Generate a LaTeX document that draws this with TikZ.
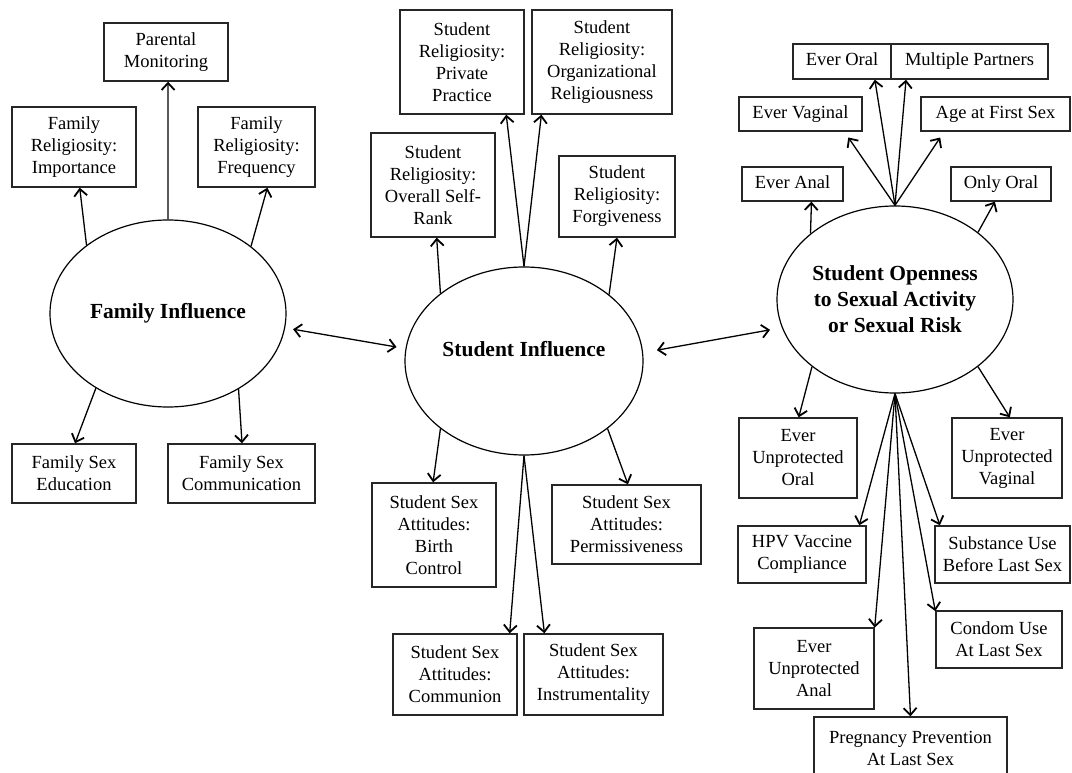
\documentclass[tikz,border=0pt]{standalone}
\usepackage{fontspec}
\setmainfont{Liberation Serif}
\usetikzlibrary{shapes.geometric,arrows.meta}
\newcommand\mybox[7][]{\node[box, #1, minimum width=#5, minimum height=#6] (#2) at (#3,#4) {#7};}
\begin{document}
\begin{tikzpicture}[x=1pt,y=-1pt,
  box/.style={draw=black!85, line width=1.4pt, rectangle, inner sep=0pt, align=center,
    font=\fontsize{18.5}{22}\selectfont},
  oneline/.style={text height=13pt, text depth=4pt},
  latent/.style={draw=black, ellipse, line width=1.2pt, inner sep=0pt, align=center,
    font=\fontsize{21.5}{26}\selectfont\bfseries},
  arr/.style={line width=1.3pt, -{Straight Barb[length=7pt,width=13pt,line width=1.8pt]}},
  darr/.style={line width=1.3pt, {Straight Barb[length=7pt,width=13pt,line width=1.8pt]}-{Straight Barb[length=7pt,width=13pt,line width=1.8pt]}}]
\useasboundingbox (0,0) rectangle (1072,773);
\fill[white] (0,0) rectangle (1072,773);

% latent variables
\node[latent, minimum width=236, minimum height=187] (fam) at (168,313.5) {Family Influence};
\node[latent, minimum width=238, minimum height=188, text depth=24pt] (stu) at (524,361) {Student Influence};
\node[latent, minimum width=236, minimum height=187] (open) at (895,299.5) {Student Openness\\to Sexual Activity\\or Sexual Risk};

% family indicators
\mybox{parmon}{166}{52}{124}{58}{Parental\\Monitoring}
\mybox{famimp}{74}{147}{124}{80}{Family\\Religiosity:\\Importance}
\mybox{famfreq}{256.5}{147}{117}{80}{Family\\Religiosity:\\Frequency}
\mybox{famedu}{74}{473.5}{124}{59}{Family Sex\\Education}
\mybox{famcomm}{241.5}{473.5}{147}{59}{Family Sex\\Communication}

% student indicators
\mybox{private}{462}{62}{124}{104}{Student\\Religiosity:\\Private\\Practice}
\mybox{org}{602}{62}{140}{104}{Student\\Religiosity:\\Organizational\\Religiousness}
\mybox{selfrank}{433}{185}{124}{104}{Student\\Religiosity:\\Overall Self-\\Rank}
\mybox{forgive}{617}{196.5}{116}{81}{Student\\Religiosity:\\Forgiveness}
\mybox{birth}{434}{535}{124}{104}{Student Sex\\Attitudes:\\Birth\\Control}
\mybox{permiss}{626.5}{524.5}{149}{79}{Student Sex\\Attitudes:\\Permissiveness}
\mybox{communion}{455}{674.5}{124}{81}{Student Sex\\Attitudes:\\Communion}
\mybox{instr}{593.5}{674.5}{139}{81}{Student Sex\\Attitudes:\\Instrumentality}

% openness indicators
\mybox[oneline]{everoral}{842}{61.5}{98}{35}{Ever Oral}
\mybox[oneline]{multi}{969.5}{61.5}{157}{35}{Multiple Partners}
\mybox[oneline]{evervag}{800.5}{114}{123}{34}{Ever Vaginal}
\mybox[oneline]{agefirst}{995.5}{114}{149}{34}{Age at First Sex}
\mybox[oneline]{everanal}{792.5}{184}{101}{34}{Ever Anal}
\mybox[oneline]{onlyoral}{1001}{184}{100}{34}{Only Oral}
\mybox{euoral}{798}{458}{118}{80}{Ever\\Unprotected\\Oral}
\mybox{euvag}{1007}{458}{110}{80}{Ever\\Unprotected\\Vaginal}
\mybox{hpv}{802}{554.5}{128}{57}{HPV Vaccine\\Compliance}
\mybox{subst}{1002.5}{554.5}{135}{57}{Substance Use\\Before Last Sex}
\mybox{euanal}{814}{668.5}{120}{81}{Ever\\Unprotected\\Anal}
\mybox{condom}{999}{639.5}{126}{57}{Condom Use\\At Last Sex}
\mybox{preg}{910.5}{748}{193}{62}{Pregnancy Prevention\\At Last Sex}

% family arrows
\draw[arr] (fam.140) -- (famimp.278);
\draw[arr] (fam.90) -- (parmon.274);
\draw[arr] (fam.39) -- (famfreq.285);
\draw[arr] (fam.226) -- (famedu.88);
\draw[arr] (fam.313) -- (famcomm.89);
\draw[darr, shorten <=8, shorten >=9] (fam.-7) -- (stu.174);

% student arrows
\draw[arr] (stu.141) -- (selfrank.274);
\draw[arr] (stu.90) -- (private.310);
\draw[arr] (stu.90) -- (org.221);
\draw[arr] (stu.38) -- (forgive.270);
\draw[arr] (stu.219) -- (birth.91);
\draw[arr] (stu.321) -- (permiss.88);
\draw[arr] (stu.270) -- (communion.37);
\draw[arr] (stu.270) -- (instr.140);
\draw[darr, shorten <=14, shorten >=12] (stu.4) -- (open.194);

% openness arrows
\draw[arr] (open.90) -- (everoral.331);
\draw[arr] (open.90) -- (multi.196);
\draw[arr, shorten >=7] (open.90) -- (evervag.338);
\draw[arr, shorten >=7] (open.90) -- (agefirst.199);
\draw[arr] (open.142) -- (everanal.317);
\draw[arr] (open.39) -- (onlyoral.251);
\draw[arr] (open.219) -- (euoral.89);
\draw[arr] (open.321) -- (euvag.86);
\draw[arr] (open.270) -- (hpv.27);
\draw[arr] (open.270) -- (subst.155);
\draw[arr] (open.270) -- (euanal.34);
\draw[arr] (open.270) -- (condom.156);
\draw[arr] (open.270) -- (preg.90);
\end{tikzpicture}
\end{document}
